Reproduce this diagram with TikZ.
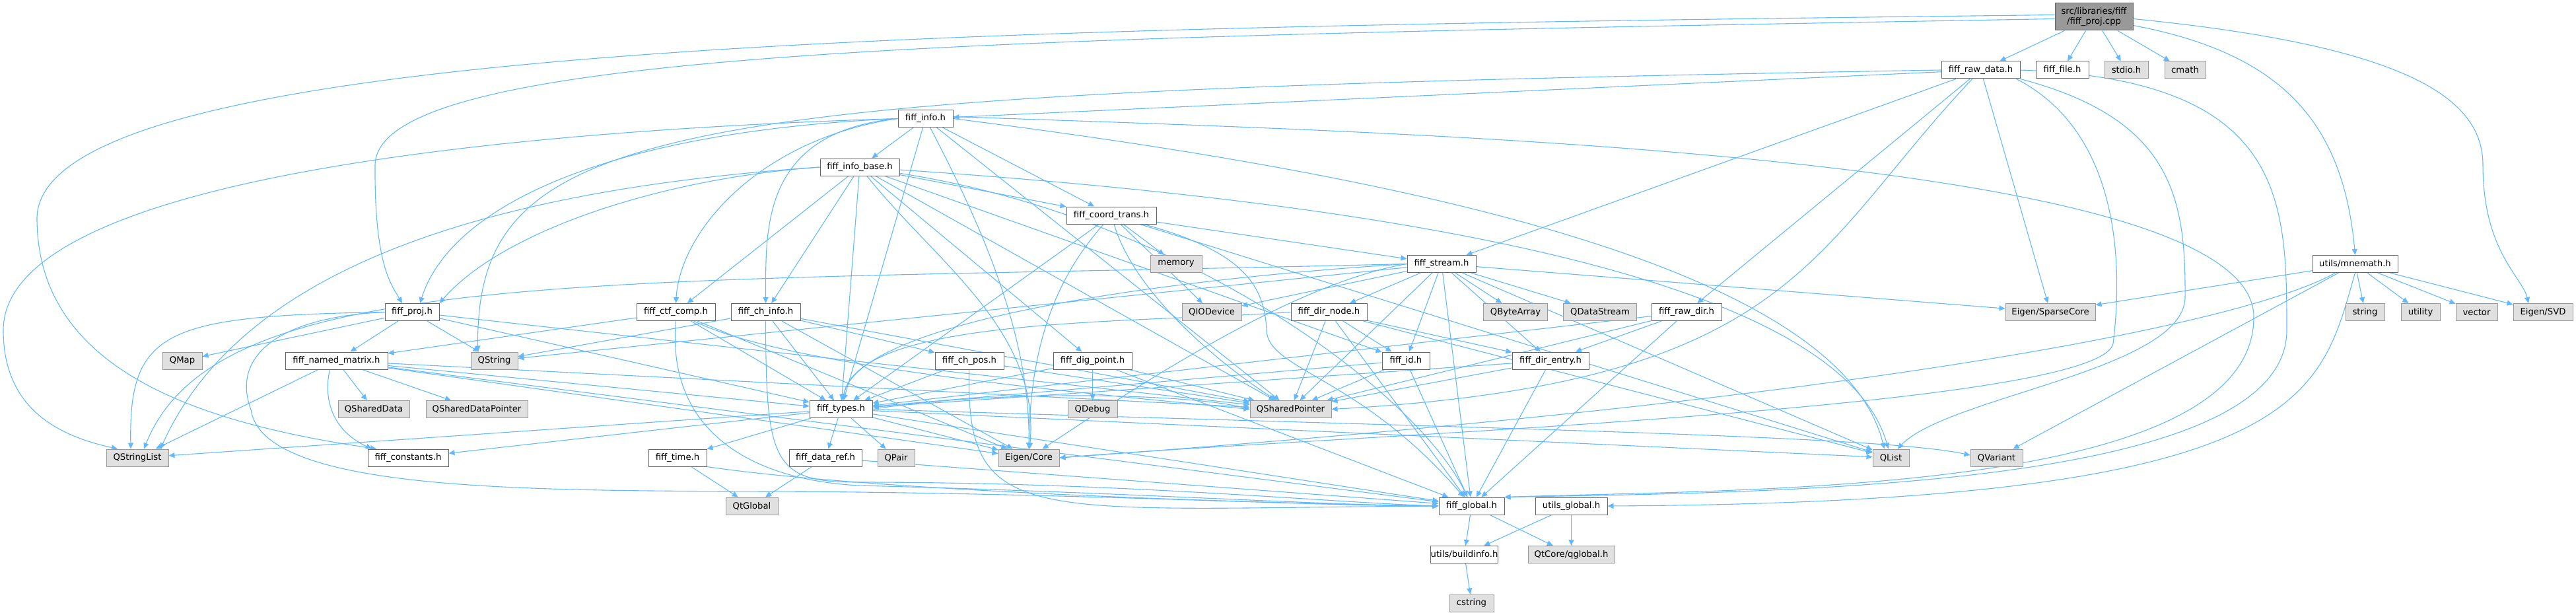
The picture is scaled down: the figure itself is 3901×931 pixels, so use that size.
\documentclass[tikz,border=0pt]{standalone}
\usepackage{fontspec}
\setmainfont{DejaVu Sans}
\usetikzlibrary{arrows.meta,backgrounds}

\definecolor{deplink}{HTML}{63B8FF}
\definecolor{hdrline}{HTML}{666666}
\definecolor{sysline}{HTML}{999999}
\definecolor{sysfill}{HTML}{E0E0E0}
\definecolor{srcfill}{HTML}{999999}

\begin{document}
\begin{tikzpicture}[x=1pt,y=-1pt,
    font=\fontsize{13.2}{15}\selectfont,
    hdr/.style={draw=hdrline,fill=white,line width=1pt,minimum height=26pt,inner sep=0pt},
    sys/.style={hdr,draw=sysline,fill=sysfill},
    src/.style={hdr,fill=srcfill,minimum height=41pt,align=center},
    dep/.style={draw=deplink,line width=1.1pt,-{Triangle[length=9pt,width=8pt]}}]
  \useasboundingbox (0,0) rectangle (3901,931);

  % headers, row by row
  \node[src,minimum width=118pt] (root) at (3171,25.5) {src/libraries/fiff\\/fiff\_proj.cpp};

  \node[hdr,minimum width=119pt] (rawdata) at (2999.5,106) {fiff\_raw\_data.h};
  \node[hdr,minimum width=80pt] (file) at (3123,106) {fiff\_file.h};
  \node[sys,minimum width=66pt] (stdio) at (3220,106) {stdio.h};
  \node[sys,minimum width=62pt] (cmath) at (3309,106) {cmath};

  \node[hdr,minimum width=83pt] (info) at (1401.5,179.5) {fiff\_info.h};
  \node[hdr,minimum width=120pt] (infobase) at (1302,253) {fiff\_info\_base.h};
  \node[hdr,minimum width=136pt] (coordtrans) at (1683,326) {fiff\_coord\_trans.h};

  \node[sys,minimum width=78pt] (memory) at (1781,399.5) {memory};
  \node[hdr,minimum width=104pt] (stream) at (2183,399.5) {fiff\_stream.h};
  \node[hdr,minimum width=129pt] (mnemath) at (3566.5,399.5) {utils/mnemath.h};

  \node[hdr,minimum width=82pt] (proj) at (624,472.5) {fiff\_proj.h};
  \node[hdr,minimum width=119pt] (ctfcomp) at (1023.5,472.5) {fiff\_ctf\_comp.h};
  \node[hdr,minimum width=105pt] (chinfo) at (1159.5,472.5) {fiff\_ch\_info.h};
  \node[sys,minimum width=90pt] (qiodevice) at (1835,472.5) {QIODevice};
  \node[hdr,minimum width=115pt] (dirnode) at (2012.5,472.5) {fiff\_dir\_node.h};
  \node[sys,minimum width=97pt] (qbytearray) at (2295,472.5) {QByteArray};
  \node[sys,minimum width=111pt] (qdatastream) at (2423,472.5) {QDataStream};
  \node[hdr,minimum width=106pt] (rawdir) at (2554,472.5) {fiff\_raw\_dir.h};
  \node[sys,minimum width=136pt] (sparsecore) at (3105,472.5) {Eigen/SparseCore};
  \node[sys,minimum width=59pt] (string) at (3581.5,472.5) {string};
  \node[sys,minimum width=59pt] (utility) at (3665.5,472.5) {utility};
  \node[sys,minimum width=63pt] (vector) at (3750.5,472.5) {vector};
  \node[sys,minimum width=90pt] (svd) at (3851,472.5) {Eigen/SVD};

  \node[sys,minimum width=60pt] (qmap) at (276,546) {QMap};
  \node[hdr,minimum width=155pt] (namedmatrix) at (509.5,546) {fiff\_named\_matrix.h};
  \node[sys,minimum width=71pt] (qstring) at (748.5,546) {QString};
  \node[hdr,minimum width=104pt] (chpos) at (1468,546) {fiff\_ch\_pos.h};
  \node[hdr,minimum width=119pt] (digpoint) at (1654.5,546) {fiff\_dig\_point.h};
  \node[hdr,minimum width=72pt] (id) at (2129,546) {fiff\_id.h};
  \node[hdr,minimum width=116pt] (direntry) at (2348,546) {fiff\_dir\_entry.h};

  \node[sys,minimum width=108pt] (qshareddata) at (566,619.5) {QSharedData};
  \node[sys,minimum width=154pt] (qshareddatapointer) at (722,619.5) {QSharedDataPointer};
  \node[hdr,minimum width=95pt] (types) at (1273.5,619.5) {fiff\_types.h};
  \node[sys,minimum width=75pt] (qdebug) at (1654.5,619.5) {QDebug};
  \node[sys,minimum width=123pt] (qsharedpointer) at (1954.5,619.5) {QSharedPointer};

  \node[sys,minimum width=94pt] (qstringlist) at (208,693) {QStringList};
  \node[hdr,minimum width=122pt] (constants) at (618,693) {fiff\_constants.h};
  \node[hdr,minimum width=88pt] (time) at (1026,693) {fiff\_time.h};
  \node[hdr,minimum width=110pt] (dataref) at (1250,693) {fiff\_data\_ref.h};
  \node[sys,minimum width=56pt] (qpair) at (1357,693) {QPair};
  \node[sys,minimum width=92pt] (eigencore) at (1558,693) {Eigen/Core};
  \node[sys,minimum width=55pt] (qlist) at (2863.5,693) {QList};
  \node[sys,minimum width=79pt] (qvariant) at (3023.5,693) {QVariant};

  \node[sys,minimum width=79pt] (qtglobal) at (1138.5,766) {QtGlobal};
  \node[hdr,minimum width=99pt] (global) at (2228.5,766) {fiff\_global.h};
  \node[hdr,minimum width=109pt] (utilsglobal) at (2379.5,766) {utils\_global.h};

  \node[hdr,minimum width=99pt] (buildinfo) at (2217.5,839.5) {utils/buildinfo.h};
  \node[sys,minimum width=131pt] (qglobal) at (2379.5,839.5) {QtCore/qglobal.h};

  \node[sys,minimum width=67pt] (cstring) at (2228.5,913) {cstring};

  \begin{scope}[on background layer]
    % fiff_proj.cpp
    \draw[dep] ([yshift=3pt]root.west) .. controls (1500,42) and (60,60) .. (56,330) .. controls (56,560) and (300,640) .. ([xshift=-48pt]constants.north);
    \draw[dep] ([yshift=-3pt]root.west) .. controls (1500,57) and (570,72) .. (568,250) .. controls (567,400) and (592,430) .. ([xshift=-15pt]proj.north);
    \path (root) edge[dep] (rawdata) edge[dep] (file) edge[dep] (stdio) edge[dep] (cmath);
    \draw[dep] ([yshift=-13pt]root.east) .. controls (3450,80) and (3548,180) .. (mnemath.north);
    \draw[dep] ([yshift=-3pt]root.east) .. controls (3650,70) and (3760,150) .. (3760,250) .. controls (3760,380) and (3820,420) .. ([xshift=-22pt]svd.north);

    % fiff_raw_data.h
    \path (rawdata) edge[dep] (info) edge[dep] (stream) edge[dep] (rawdir) edge[dep] (sparsecore);
    \draw[dep] (rawdata.west) .. controls (1000,140) and (722,180) .. ([xshift=-25pt]qstring.north);
    \draw[dep] (rawdata) .. controls (2740,380) and (2720,580) .. (qsharedpointer.east);
    \draw[dep] ([xshift=-6pt]rawdata.south east) .. controls (3210,200) and (3215,400) .. (3200,520) .. controls (3180,620) and (2000,660) .. (eigencore.east);
    \draw[dep] (rawdata.south east) .. controls (3290,180) and (3310,300) .. (3309,450) .. controls (3308,560) and (2950,600) .. ([xshift=10pt]qlist.north);
    \draw[dep] (rawdata.east) .. controls (3460,120) and (3463,300) .. (3463,500) .. controls (3463,740) and (2700,745) .. (global.north east);

    % fiff_info.h
    \path (info) edge[dep] (infobase) edge[dep] (coordtrans) edge[dep] (types) edge[dep] (qsharedpointer);
    \draw[dep] (info.west) .. controls (1150,210) and (1030,350) .. (ctfcomp.north);
    \draw[dep] (info.west) .. controls (1150,200) and (1160,350) .. (chinfo.north);
    \draw[dep] (info.west) .. controls (900,200) and (680,320) .. ([xshift=12pt]proj.north);
    \draw[dep] (info.west) .. controls (700,200) and (5,280) .. (5,500) .. controls (5,620) and (90,660) .. ([xshift=-30pt]qstringlist.north);
    \draw[dep] (info) .. controls (1480,330) and (1560,500) .. (eigencore);
    \draw[dep] (info.east) .. controls (2000,250) and (2780,380) .. ([xshift=-10pt]qlist.north);
    \draw[dep] ([yshift=3pt]info.east) .. controls (2100,200) and (3413,230) .. (3413,480) .. controls (3413,750) and (2650,740) .. (global.north east);

    % fiff_info_base.h
    \path (infobase) edge[dep] (coordtrans) edge[dep] (ctfcomp) edge[dep] (chinfo) edge[dep] (types) edge[dep] (digpoint) edge[dep] (id) edge[dep] (qsharedpointer);
    \draw[dep] (infobase.west) .. controls (1000,270) and (760,350) .. (proj.north east);
    \draw[dep] (infobase.west) .. controls (700,290) and (360,420) .. ([xshift=35pt]qstringlist.north);
    \draw[dep] (infobase) .. controls (1420,400) and (1575,500) .. (eigencore);
    \draw[dep] (infobase) .. controls (1800,330) and (2150,600) .. (global);
    \draw[dep] (infobase) .. controls (2000,300) and (2780,400) .. (qlist);

    % fiff_coord_trans.h
    \path (coordtrans) edge[dep] (stream) edge[dep] (memory) edge[dep] (qiodevice) edge[dep] (types) edge[dep] (qlist);
    \draw[dep] (coordtrans) .. controls (1600,420) and (1560,520) .. (eigencore);
    \draw[dep] (coordtrans) .. controls (1720,450) and (1860,560) .. (qsharedpointer);
    \draw[dep] (coordtrans) .. controls (1880,380) and (1915,430) .. (1918,500) .. controls (1920,560) and (2060,570) .. (global);

    % fiff_stream.h
    \path (stream) edge[dep] (qiodevice) edge[dep] (dirnode) edge[dep] (id) edge[dep] (direntry) edge[dep] (qbytearray) edge[dep] (qdatastream) edge[dep] (qsharedpointer) edge[dep] (global) edge[dep] (qlist) edge[dep] (sparsecore) edge[dep] (qstring);
    \draw[dep] (stream.west) .. controls (1800,420) and (1300,480) .. (types);
    \draw[dep] (stream.west) .. controls (1950,430) and (1700,600) .. (eigencore);
    \draw[dep] (stream.west) .. controls (900,430) and (330,400) .. ([xshift=10pt]qstringlist.north);

    % fiff_dir_node.h, fiff_raw_dir.h
    \path (dirnode) edge[dep] (id) edge[dep] (direntry) edge[dep] (qsharedpointer) edge[dep] (global) edge[dep] (qlist);
    \draw[dep] (dirnode.west) .. controls (1700,490) and (1300,480) .. (types);
    \path (rawdir) edge[dep] (direntry) edge[dep] (types) edge[dep] (qsharedpointer) edge[dep] (global);

    % fiff_id.h, fiff_dir_entry.h
    \path (id) edge[dep] (types) edge[dep] (qsharedpointer) edge[dep] (global);
    \path (direntry) edge[dep] (types) edge[dep] (qsharedpointer) edge[dep] (global);

    % fiff_ch_pos.h, fiff_dig_point.h
    \path (chpos) edge[dep] (types) edge[dep] (qsharedpointer);
    \draw[dep] (chpos) .. controls (1462,800) and (1560,770) .. (global.west);
    \path (digpoint) edge[dep] (qdebug) edge[dep] (types) edge[dep] (qsharedpointer) edge[dep] (global);

    % fiff_ch_info.h, fiff_ctf_comp.h
    \path (chinfo) edge[dep] (chpos) edge[dep] (qstring) edge[dep] (types) edge[dep] (qsharedpointer) edge[dep] (eigencore);
    \draw[dep] (chinfo.south) .. controls (1160,700) and (1170,730) .. (1300,730) .. controls (1700,730) and (2000,760) .. (global.west);
    \path (ctfcomp) edge[dep] (namedmatrix) edge[dep] (types) edge[dep] (eigencore);
    \draw[dep] (ctfcomp) .. controls (1200,560) and (1700,600) .. (qsharedpointer.west);
    \draw[dep] (ctfcomp.south) .. controls (1010,640) and (1120,725) .. (1300,735) .. controls (1700,745) and (2000,765) .. (global.west);

    % fiff_named_matrix.h
    \path (namedmatrix) edge[dep] (qstringlist) edge[dep] (qshareddata) edge[dep] (qshareddatapointer) edge[dep] (types) edge[dep] (eigencore) edge[dep] (qsharedpointer) edge[dep] (global);
    \draw[dep] ([xshift=-10pt]namedmatrix.south) .. controls (490,600) and (500,650) .. ([xshift=-55pt]constants.north);

    % fiff_proj.h
    \path (proj) edge[dep] (qmap) edge[dep] (namedmatrix) edge[dep] (qstring) edge[dep] (types) edge[dep] (qsharedpointer);
    \draw[dep] (proj.west) .. controls (250,478) and (195,500) .. ([xshift=-10pt]qstringlist.north);
    \draw[dep] (proj.west) .. controls (420,480) and (350,540) .. (380,620) .. controls (400,760) and (900,740) .. (1300,745) .. controls (1700,750) and (2000,766) .. (global.west);

    % fiff_types.h
    \path (types) edge[dep] (time) edge[dep] (dataref) edge[dep] (qstringlist) edge[dep] (constants) edge[dep] (qpair) edge[dep] (eigencore) edge[dep] (qlist) edge[dep] (global);
    \draw[dep] (types.east) .. controls (1500,590) and (1800,595) .. (qsharedpointer.west);
    \draw[dep] (types.east) .. controls (2300,650) and (2850,660) .. ([yshift=4pt]qvariant.west);

    % fiff_time.h, fiff_data_ref.h
    \path (time) edge[dep] (qtglobal);
    \draw[dep] (time.south east) .. controls (1300,740) and (1800,760) .. (global.west);
    \path (dataref) edge[dep] (qtglobal) edge[dep] (global);

    % globals
    \path (global) edge[dep] (buildinfo) edge[dep] (qglobal);
    \path (utilsglobal) edge[dep] (buildinfo) edge[dep] (qglobal);
    \path (buildinfo) edge[dep] (cstring);

    % utils/mnemath.h
    \path (mnemath) edge[dep] (sparsecore) edge[dep] (qvariant) edge[dep] (string) edge[dep] (utility) edge[dep] (vector) edge[dep] (svd);
    \draw[dep] ([xshift=-30pt]mnemath.south) .. controls (3420,480) and (2900,600) .. (eigencore.east);
    \draw[dep] (mnemath.south) .. controls (3512,600) and (3500,760) .. (utilsglobal.east);
  \end{scope}
\end{tikzpicture}
\end{document}
